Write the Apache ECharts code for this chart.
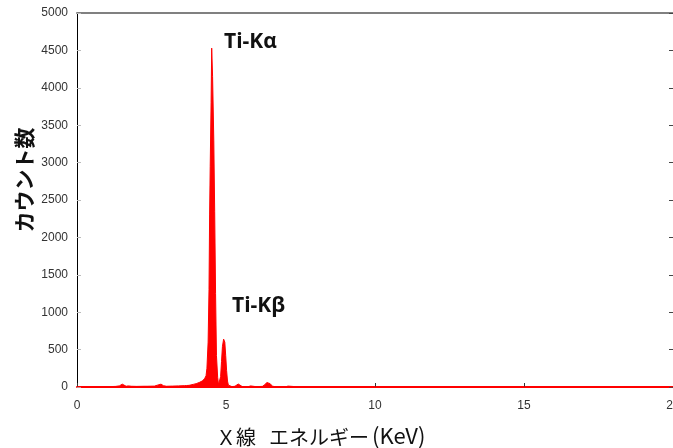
<!DOCTYPE html>
<html>
<head>
<meta charset="utf-8">
<script src="https://cdn.jsdelivr.net/npm/echarts@6/dist/echarts.min.js"></script>
<style>
html,body{margin:0;padding:0;background:#fff;}
#chart{width:673px;height:448px;}
</style>
</head>
<body>
<div id="chart"></div>
<script>
// X-ray energy (keV) and counts
var energyKeV = [
  0, 0.45, 0.5, 0.55, 0.8, 0.84, 0.88, 1.05, 1.08, 1.11,
  1.3, 1.42, 1.47, 1.52, 1.57, 1.65, 1.72, 1.77, 1.82, 2.0,
  2.25, 2.3, 2.35, 2.6, 2.7, 2.76, 2.82, 2.9, 3.0, 3.2,
  3.4, 3.6, 3.68, 3.72, 3.76, 3.9, 4.0, 4.1, 4.2, 4.28,
  4.33, 4.36, 4.40, 4.43, 4.45, 4.47, 4.50, 4.52, 4.55, 4.59,
  4.62, 4.65, 4.68, 4.72, 4.75, 4.78, 4.82, 4.85, 4.88, 4.92,
  4.93, 4.96, 4.99, 5.02, 5.05, 5.08, 5.12, 5.2, 5.3, 5.36,
  5.41, 5.46, 5.55, 5.75, 5.82, 5.88, 6.0, 6.22, 6.3, 6.37,
  6.42, 6.48, 6.56, 6.7, 7.0, 7.08, 7.14, 7.5, 7.95, 8.0,
  8.05, 8.55, 8.6, 8.65, 9.0, 20
];
var counts = [
  0, 0, 12, 0, 2, 12, 3, 4, 14, 5,
  8, 15, 35, 38, 18, 10, 15, 22, 10, 8,
  10, 18, 10, 12, 25, 42, 38, 18, 10, 12,
  15, 18, 20, 35, 22, 35, 45, 60, 80, 110,
  150, 250, 600, 1300, 2300, 2950, 3800, 4530, 4150, 3300,
  2350, 1250, 420, 130, 30, 35, 140, 340, 540, 640,
  655, 600, 420, 220, 80, 25, 8, 5, 10, 25,
  40, 20, 5, 3, 15, 3, 5, 8, 30, 60,
  70, 45, 10, 3, 2, 12, 2, 0, 0, 12,
  0, 0, 10, 0, 0, 0
];
var xTicks = [0, 20, 5];      // min, max, interval
var yTicks = [0, 5000, 500];  // min, max, interval
var peakLabels = ['Ti-K\u03b1', 'Ti-K\u03b2'];
var xTitleParts = ['Ｘ線', 'エネルギー', '(KeV)'];
var yTitle = 'カウント数';

var seriesData = energyKeV.map(function (e, i) { return [e, counts[i]]; });

var chart = echarts.init(document.getElementById('chart'), null, {renderer: 'canvas'});
var tickFont = {fontFamily: 'Liberation Sans, Arial, sans-serif', fontSize: 12, color: '#333'};
chart.setOption({
  animation: false,
  backgroundColor: '#fff',
  grid: {left: 77, right: 0, top: 13, bottom: 61, containLabel: false, outerBoundsMode: 'none'},
  xAxis: [{
    type: 'value', min: xTicks[0], max: xTicks[1], interval: xTicks[2], position: 'bottom',
    axisLine: {show: true, onZero: false, lineStyle: {color: '#ff0000', width: 2}},
    axisTick: {show: true, inside: true, length: 4, lineStyle: {color: '#333'}},
    axisLabel: Object.assign({margin: 13}, tickFont),
    splitLine: {show: false}
  }, {
    type: 'value', min: xTicks[0], max: xTicks[1], interval: xTicks[2], position: 'top',
    axisLine: {show: true, onZero: false, lineStyle: {color: '#808080', width: 2}},
    axisTick: {show: false}, axisLabel: {show: false}, splitLine: {show: false}
  }],
  yAxis: [{
    type: 'value', min: yTicks[0], max: yTicks[1], interval: yTicks[2], position: 'left',
    axisLine: {show: true, onZero: false, lineStyle: {color: '#000', width: 1}},
    axisTick: {show: true, inside: true, length: 4, lineStyle: {color: '#bbb'}},
    axisLabel: Object.assign({margin: 9, formatter: function (v) { return String(v); }}, tickFont),
    splitLine: {show: false}
  }, {
    type: 'value', min: yTicks[0], max: yTicks[1], interval: yTicks[2], position: 'right',
    axisLine: {show: false, onZero: false},
    axisTick: {show: true, inside: true, length: 4, lineStyle: {color: '#444'}},
    axisLabel: {show: false}, splitLine: {show: false}
  }],
  series: [{
    type: 'line', xAxisIndex: 0, yAxisIndex: 0,
    data: seriesData, showSymbol: false, symbol: 'none',
    lineStyle: {color: '#ff0000', width: 1},
    areaStyle: {color: '#ff0000', opacity: 1},
    z: 1
  }],
  graphic: [
    {type: 'text', left: 224, top: 32, style: {text: peakLabels[0], fill: '#111',
      font: 'bold 21px "Open Sans", "Liberation Sans", sans-serif'}},
    {type: 'text', left: 232, top: 296, style: {text: peakLabels[1], fill: '#111',
      font: 'bold 21px "Open Sans", "Liberation Sans", sans-serif'}},
    {type: 'text', left: 216, top: 427, style: {text: xTitleParts[0], fill: '#111',
      font: '20px "Noto Sans CJK JP", sans-serif'}},
    {type: 'text', left: 269, top: 427, style: {text: xTitleParts[1], fill: '#111',
      font: '20px "Noto Sans CJK JP", sans-serif'}},
    {type: 'text', left: 372, top: 425, style: {text: xTitleParts[2], fill: '#111',
      font: '22px "Noto Sans CJK JP", sans-serif'}},
    {type: 'text', x: 24, y: 180, rotation: Math.PI / 2, style: {text: yTitle, fill: '#111',
      font: 'bold 21px "Noto Sans CJK JP", sans-serif', align: 'center', verticalAlign: 'middle'}}
  ]
});
</script>
</body>
</html>
